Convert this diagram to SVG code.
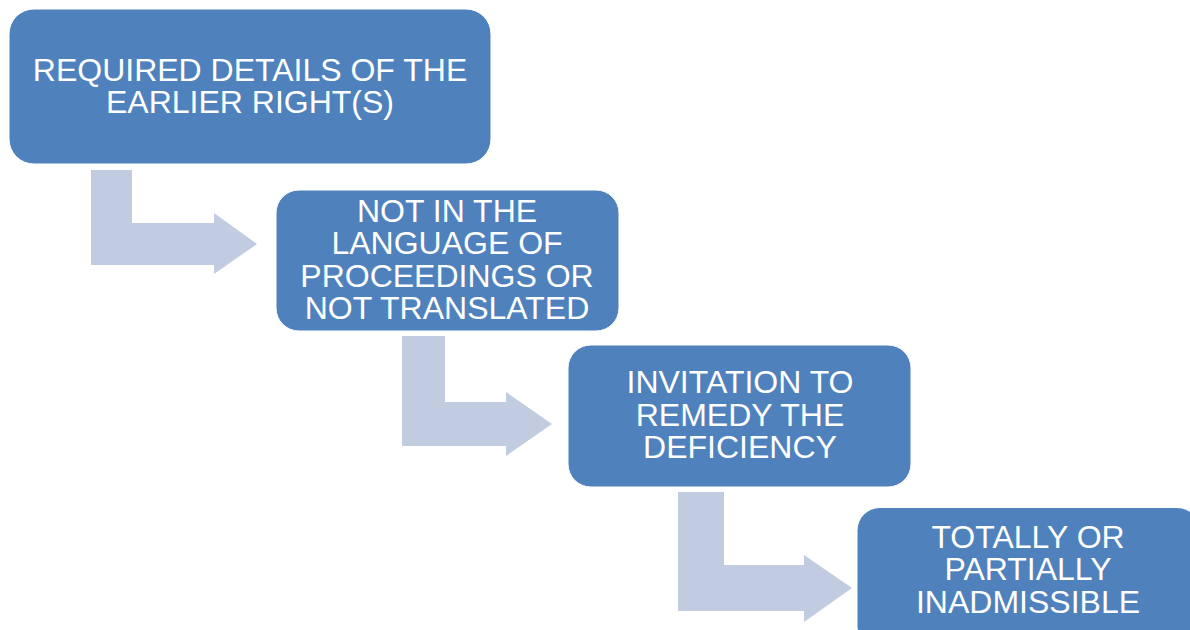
<svg xmlns="http://www.w3.org/2000/svg" width="1190" height="630" viewBox="0 0 1190 630">
  <style>
    .step { fill: #4F81BD; stroke: #FFFFFF; stroke-width: 1; }
    .label { fill: #FFFFFF; font-family: "Liberation Sans", Arial, sans-serif; font-size: 32px; text-anchor: middle; }
    .bend { fill: #C1CCE1; }
  </style>
  <rect width="1190" height="630" fill="#FFFFFF"/>

  <!-- bent arrows between the steps -->
  <g id="connectors">
    <path class="bend" d="M91,170 H132 V223 H214 V213 L257,244 L214,274 V265 H91 Z"/>
    <path class="bend" d="M402,336 H445 V402 H506 V392 L552,424 L506,456 V446 H402 Z"/>
    <path class="bend" d="M678,492 H724 V565 H804 V555 L852,588 L804,622 V611 H678 Z"/>
  </g>

  <g id="step1">
    <rect class="step" x="9" y="9" width="482" height="155" rx="25"/>
    <text class="label" x="250" y="81">REQUIRED DETAILS OF THE</text>
    <text class="label" x="250" y="113">EARLIER RIGHT(S)</text>
  </g>

  <g id="step2">
    <rect class="step" x="276" y="190" width="343" height="141" rx="23"/>
    <text class="label" x="447" y="222">NOT IN THE</text>
    <text class="label" x="447" y="254">LANGUAGE OF</text>
    <text class="label" x="447" y="286.5">PROCEEDINGS OR</text>
    <text class="label" x="447" y="318.5">NOT TRANSLATED</text>
  </g>

  <g id="step3">
    <rect class="step" x="568" y="345" width="343" height="142" rx="23"/>
    <text class="label" x="740" y="393">INVITATION TO</text>
    <text class="label" x="740" y="425.5">REMEDY THE</text>
    <text class="label" x="740" y="458">DEFICIENCY</text>
  </g>

  <g id="step4">
    <rect class="step" x="857" y="507.5" width="343" height="142" rx="23"/>
    <text class="label" x="1028" y="547.5">TOTALLY OR</text>
    <text class="label" x="1028" y="580">PARTIALLY</text>
    <text class="label" x="1028" y="612.5">INADMISSIBLE</text>
  </g>
</svg>
